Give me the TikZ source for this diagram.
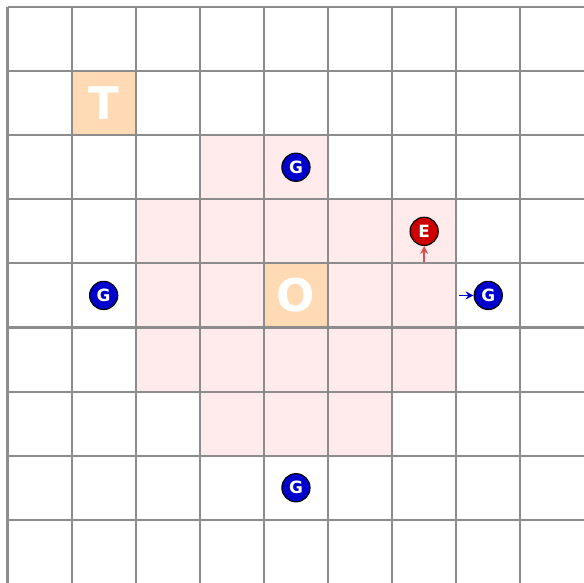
\documentclass[tikz,border=0pt]{standalone}
\usepackage{fontspec}
\setsansfont{DejaVu Sans}
\usetikzlibrary{arrows.meta}
\definecolor{cell-pink}{RGB}{255,235,235}
\definecolor{cell-orange}{RGB}{255,218,180}
\definecolor{agent-blue}{RGB}{0,0,204}
\definecolor{agent-red}{RGB}{204,0,0}
\definecolor{grid-gray}{RGB}{140,140,140}

\begin{document}
\begin{tikzpicture}[
  gridline/.style={draw=grid-gray, line width=0.9pt},
  cellbox/.style={rectangle, minimum size=1cm, inner sep=0pt, fill=cell-orange, text=white, font=\sffamily\bfseries\fontsize{20}{20}\selectfont},
  agent/.style={circle, draw=black, line width=0.5pt, inner sep=0pt, minimum size=0.44cm, text=white, font=\sffamily\bfseries\fontsize{7.5}{7.5}\selectfont},
  arrow/.style={-{Stealth[length=3.5pt,width=3.5pt]}, line width=0.6pt}
]
  \useasboundingbox (-0.117,0.109) rectangle (8.994,-8.986);
  \clip (-0.117,0.109) rectangle (8.994,-8.986);

  % shaded region round the origin
  \foreach \c/\r in {3/2,4/2,2/3,3/3,4/3,5/3,6/3,2/4,3/4,5/4,6/4,2/5,3/5,4/5,5/5,6/5,3/6,4/6,5/6}
    \fill[cell-pink] (\c,-\r) rectangle ++(1,-1);

  \node[cellbox] (target) at (1.5,-1.5) {T};
  \node[cellbox] (origin) at (4.5,-4.5) {O};

  % grid
  \foreach \i in {0,...,8} {
    \draw[gridline] (\i,0) -- (\i,-9.2);
    \draw[gridline] (0,-\i) -- (9.2,-\i);
  }

  \node[agent, fill=agent-blue] (g1) at (4.5,-2.5) {G};
  \node[agent, fill=agent-blue] (g2) at (1.5,-4.5) {G};
  \node[agent, fill=agent-blue] (g3) at (7.5,-4.5) {G};
  \node[agent, fill=agent-blue] (g4) at (4.5,-7.5) {G};
  \node[agent, fill=agent-red] (enemy) at (6.5,-3.5) {E};

  \coordinate (e-from) at (6.5,-3.98);
  \coordinate (g-from) at (7.05,-4.5);
  \draw[arrow, draw=agent-red!70!white] (e-from) -- (enemy.south);
  \draw[arrow, draw=agent-blue] (g-from) -- (g3.west);
\end{tikzpicture}
\end{document}
